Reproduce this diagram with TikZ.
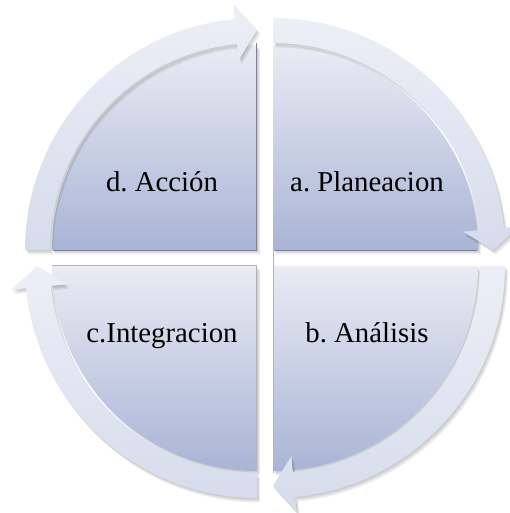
\documentclass[tikz,border=0pt]{standalone}
\usepackage{fontspec}
\setmainfont{Liberation Serif}
\frenchspacing
\definecolor{qtop}{HTML}{E9ECF4}
\definecolor{qbot}{HTML}{A9B4D6}
\definecolor{rtop}{HTML}{ECEFF6}
\definecolor{rbot}{HTML}{D6DCEC}
\definecolor{edgegray}{HTML}{7C8192}
\tikzset{
  quad/.style={top color=qtop, bottom color=qbot},
  ringseg/.style={top color=rtop, bottom color=rbot},
  shadowfill/.style={fill=black, opacity=0.07},
  label/.style={font=\fontsize{28.8}{30}\selectfont, anchor=base, inner sep=0pt}
}
\begin{document}
\begin{tikzpicture}[x=1pt,y=1pt]
\useasboundingbox (0,0) rectangle (510,513);
% quadrants with faint shadow
\foreach \cx/\cy/\s in {257/263/180, 273/263/90, 273/247/0, 257/247/-90} {
  \pgfmathsetmacro\e{\s-90}
  \foreach \dx/\dy in {1/-1.5, 2/-3, 3/-4.5} {
    \fill[shadowfill] ([shift={(\cx+\dx,\cy+\dy)}]0:0) -- ++(\s:205) arc[start angle=\s, end angle=\e, radius=205] -- cycle;
  }
  \shade[quad] (\cx,\cy) -- ++(\s:205) arc[start angle=\s, end angle=\e, radius=205] -- cycle;
}
% straight-edge shadow lines
\draw[edgegray, line width=1.2pt] (53,262.5) -- (256.5,262.5) -- (256.5,470);
\draw[edgegray, line width=1.2pt] (273.5,262.5) -- (477,262.5);
\draw[edgegray!60, line width=0.8pt] (257,247.5) -- (52,247.5);
\draw[edgegray!60, line width=0.8pt] (256.5,247) -- (256.5,43);
\draw[edgegray!60, line width=0.8pt] (273.5,42) -- (273.5,262);
\draw[edgegray!60, line width=0.8pt] (273.5,246) -- (273.5,40);
% ring arrows
\foreach \cx/\cy/\s in {257/263/180, 273/263/90, 273/247/0, 257/247/-90} {
  \pgfmathsetmacro\e{\s-90}
  \pgfmathsetmacro\b{\e+5.5}
  \foreach \dx/\dy in {1/-1.5, 2/-3, 3/-4.5} {
    \fill[shadowfill] ([shift={(\cx+\dx,\cy+\dy)}]\s:232) arc[start angle=\s, end angle=\b, radius=232]
      -- ([shift={(\cx+\dx,\cy+\dy)}]\b:247) -- ([shift={(\cx+\dx,\cy+\dy)}]\e:220)
      -- ([shift={(\cx+\dx,\cy+\dy)}]\b:191) -- ([shift={(\cx+\dx,\cy+\dy)}]\b:207)
      arc[start angle=\b, end angle=\s, radius=207] -- cycle;
  }
  \shade[ringseg] ([shift={(\cx,\cy)}]\s:232) arc[start angle=\s, end angle=\b, radius=232]
      -- ([shift={(\cx,\cy)}]\b:247) -- ([shift={(\cx,\cy)}]\e:220)
      -- ([shift={(\cx,\cy)}]\b:191) -- ([shift={(\cx,\cy)}]\b:207)
      arc[start angle=\b, end angle=\s, radius=207] -- cycle;
}
% labels
\node[label] (d) at (162,321) {d. Acción};
\node[label] (a) at (367,321) {a. Planeacion};
\node[label] (c) at (162,170) {c.Integracion};
\node[label] (b) at (367,170) {b. Análisis};
\end{tikzpicture}
\end{document}
